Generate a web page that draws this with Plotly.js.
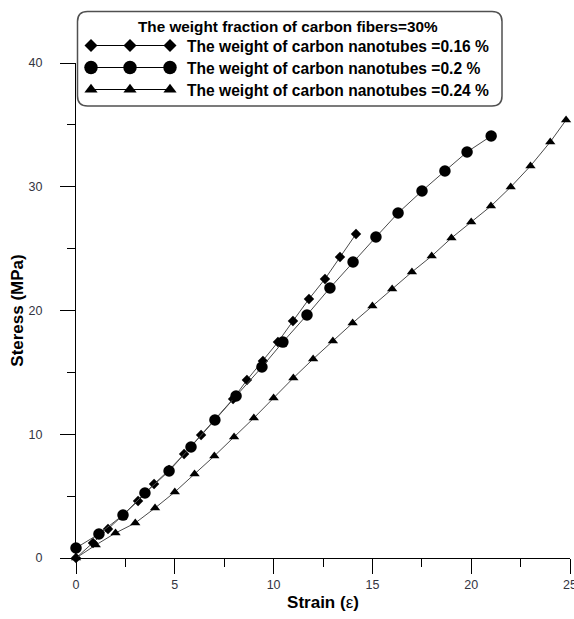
<!DOCTYPE html>
<html>
<head>
<meta charset="utf-8">
<script src="https://cdn.plot.ly/plotly-3.0.1.min.js"></script>
<style>html,body{margin:0;padding:0;background:#fff;}#chart{width:574px;height:619px;}</style>
</head>
<body>
<div id="chart"></div>
<script>
// ---- data ----
const strainCNT016 = [0, 0.86, 1.62, 2.38, 3.14, 3.95, 4.71, 5.47, 6.33, 7.03, 7.95, 8.65, 9.46, 10.22, 10.98, 11.79, 12.60, 13.36, 14.17];
const stressCNT016 = [0, 1.21, 2.34, 3.47, 4.61, 5.98, 7.11, 8.40, 9.94, 11.15, 12.85, 14.38, 15.92, 17.45, 19.15, 20.93, 22.55, 24.32, 26.18];

const strainCNT02 = [0, 1.16, 2.38, 3.49, 4.71, 5.82, 7.03, 8.10, 9.41, 10.47, 11.69, 12.85, 14.02, 15.18, 16.30, 17.51, 18.67, 19.79, 21.01];
const stressCNT02 = [0.81, 1.94, 3.47, 5.25, 7.03, 8.97, 11.15, 13.09, 15.43, 17.45, 19.64, 21.82, 23.92, 25.94, 27.88, 29.66, 31.27, 32.81, 34.10];

const strainCNT024 = [0, 1.0, 2.0, 3.0, 4.0, 5.0, 6.0, 7.0, 8.0, 9.0, 10.0, 11.0, 12.0, 13.0, 14.0, 15.0, 16.0, 17.0, 18.0, 19.0, 20.0, 21.0, 22.0, 23.0, 24.0, 24.8];
const stressCNT024 = [0, 1.05, 2.02, 2.83, 4.04, 5.33, 6.79, 8.24, 9.78, 11.31, 12.93, 14.55, 16.08, 17.54, 18.99, 20.36, 21.74, 23.11, 24.40, 25.86, 27.15, 28.44, 29.98, 31.68, 33.62, 35.39];

const seriesNames = [
  "The weight of carbon nanotubes =0.16 %",
  "The weight of carbon nanotubes =0.2 %",
  "The weight of carbon nanotubes =0.24 %"
];
const legendTitle = "The weight fraction of carbon fibers=30%";
const xTicks = [0, 5, 10, 15, 20, 25];
const yTicks = [0, 10, 20, 30, 40];

// ---- styling ----
const FONT = "Liberation Sans, Arial, Helvetica, sans-serif";
const lineStyle = {color: "#4a4a4a", width: 1};
const symbols = ["diamond", "circle", "triangle-up"];
const sizes = [8, 11.5, 9];
const legSizes = [10, 13.5, 11.5];
const legRowsY = [45.5, 67.5, 89.5];
const legMarkX = [91, 130, 170];

const traces = [
  {x: strainCNT016, y: stressCNT016},
  {x: strainCNT02, y: stressCNT02},
  {x: strainCNT024, y: stressCNT024}
].map((d, i) => ({
  x: d.x, y: d.y, type: "scatter", mode: "lines+markers",
  name: seriesNames[i], showlegend: false, cliponaxis: false,
  line: lineStyle,
  marker: {symbol: symbols[i], size: sizes[i], color: "#000", line: {width: 0}},
  xaxis: "x", yaxis: "y"
}));

// custom legend (drawn on a hidden pixel-unit axis pair)
const legendTraces = symbols.map((s, i) => ({
  x: legMarkX, y: legMarkX.map(() => legRowsY[i]),
  type: "scatter", mode: "lines+markers", showlegend: false, cliponaxis: false,
  hoverinfo: "skip",
  line: {color: "#000", width: 1},
  marker: {symbol: s, size: legSizes[i], color: "#000", line: {width: 0}},
  xaxis: "x2", yaxis: "y2"
}));

function roundedRect(x0, y0, x1, y1, r) {
  return `M${x0 + r},${y0} H${x1 - r} Q${x1},${y0} ${x1},${y0 + r} V${y1 - r} Q${x1},${y1} ${x1 - r},${y1} H${x0 + r} Q${x0},${y1} ${x0},${y1 - r} V${y0 + r} Q${x0},${y0} ${x0 + r},${y0} Z`;
}

const annotations = [
  {text: "<b>" + legendTitle + "</b>", x: 288, y: 26, xref: "x2", yref: "y2",
   xanchor: "center", yanchor: "middle", showarrow: false,
   font: {family: FONT, size: 15.3, color: "#000"}}
].concat(seriesNames.map((n, i) => ({
  text: "<b>" + n + "</b>", x: 185, y: legRowsY[i] + 0.5, xref: "x2", yref: "y2",
  xanchor: "left", yanchor: "middle", showarrow: false,
  font: {family: FONT, size: 15.6, color: "#000"}
})));

const layout = {
  width: 574, height: 619,
  margin: {l: 76, r: 4, t: 5, b: 61, pad: 0},
  paper_bgcolor: "#fff", plot_bgcolor: "rgba(0,0,0,0)",
  showlegend: false,
  font: {family: FONT},
  xaxis: {
    domain: [0, 1], anchor: "y", range: [0, 25],
    tickvals: xTicks, ticks: "outside", ticklen: 15, tickwidth: 1, tickcolor: "#000",
    minor: {dtick: 2.5, tick0: 0, ticks: "outside", ticklen: 8, tickwidth: 1, tickcolor: "#000", showgrid: false},
    showline: true, linecolor: "#000", linewidth: 1, showgrid: false, zeroline: false,
    tickfont: {family: FONT, size: 12.5, color: "#33343f"},
    ticklabeloverflow: "allow",
    title: {text: "<b>Strain (</b>ε<b>)</b>", font: {family: FONT, size: 17, color: "#000"}, standoff: 5},
    automargin: false, fixedrange: true
  },
  yaxis: {
    domain: [0, 495 / 553], anchor: "x", range: [0, 40],
    tickvals: yTicks, ticks: "outside", ticklen: 15, tickwidth: 1, tickcolor: "#000",
    minor: {dtick: 5, tick0: 0, ticks: "outside", ticklen: 8, tickwidth: 1, tickcolor: "#000", showgrid: false},
    showline: true, linecolor: "#000", linewidth: 1, showgrid: false, zeroline: false,
    tickfont: {family: FONT, size: 12.5, color: "#33343f"},
    ticklabelstandoff: 15,
    title: {text: "<b>Steress (MPa)</b>", font: {family: FONT, size: 17, color: "#000"}, standoff: 0},
    automargin: false, fixedrange: true
  },
  xaxis2: {domain: [0, 1], anchor: "y2", range: [76, 570], visible: false, fixedrange: true},
  yaxis2: {domain: [0, 1], anchor: "x2", range: [558, 5], visible: false, fixedrange: true},
  shapes: [{
    type: "path", xref: "x2", yref: "y2",
    path: roundedRect(77.5, 11.5, 502, 106, 10),
    line: {color: "#505050", width: 1.5}, fillcolor: "rgba(0,0,0,0)", layer: "above"
  }],
  annotations: annotations
};

Plotly.newPlot("chart", traces.concat(legendTraces), layout, {displayModeBar: false, staticPlot: true});
</script>
</body>
</html>
